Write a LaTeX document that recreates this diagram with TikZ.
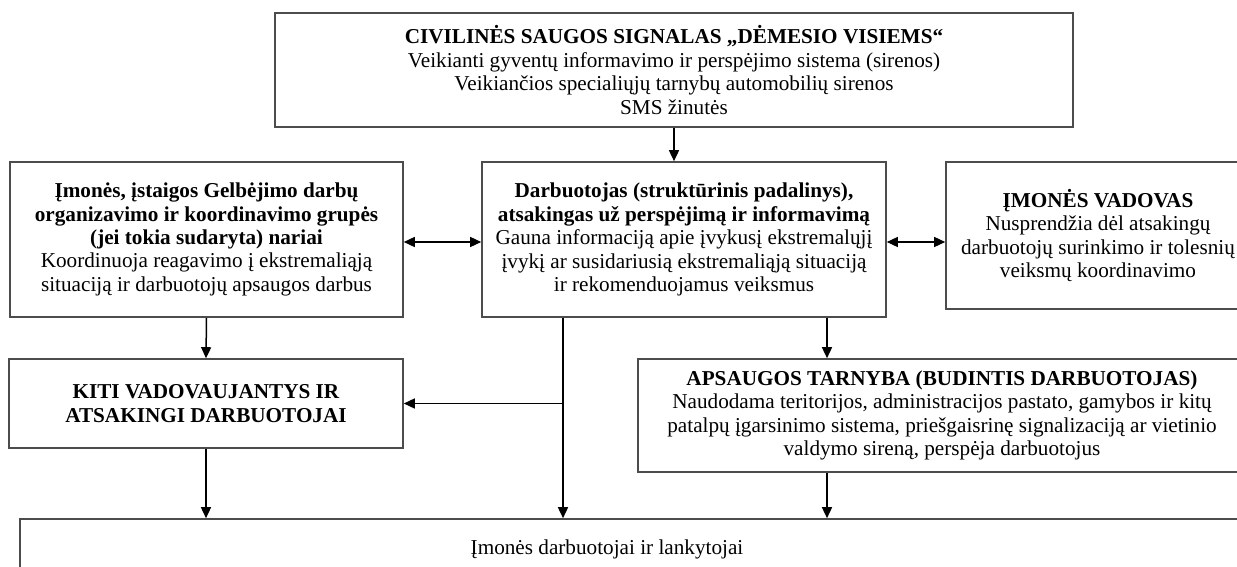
\documentclass[tikz,border=0pt]{standalone}
\usepackage{fontspec}
\setmainfont{Liberation Serif}
\usetikzlibrary{arrows.meta}
\tikzset{
  box/.style={draw=black!70, line width=0.8pt, align=center, inner sep=0pt,
    font=\fontsize{10.6}{11.7}\selectfont},
  arr/.style={-{Triangle[length=5.5pt,width=5pt]}, line width=0.75pt},
  dbl/.style={{Triangle[length=5.5pt,width=5pt]}-{Triangle[length=5.5pt,width=5pt]}, line width=0.75pt},
}
\begin{document}
\begin{tikzpicture}[x=0.5pt, y=-0.5pt]
\useasboundingbox (0,0) rectangle (1237,567);
% signal on top
\node[box, minimum width=399pt, minimum height=57pt] (sig) at (674,70)
  {\textbf{CIVILINĖS SAUGOS SIGNALAS „DĖMESIO VISIEMS“}\\
   Veikianti gyventų informavimo ir perspėjimo sistema (sirenos)\\
   Veikiančios specialiųjų tarnybų automobilių sirenos\\
   SMS žinutės};
% middle row
\node[box, minimum width=196.5pt, minimum height=77.5pt] (grp) at (206.5,239.5)
  {\textbf{Įmonės, įstaigos Gelbėjimo darbų}\\
   \textbf{organizavimo ir koordinavimo grupės}\\
   \textbf{(jei tokia sudaryta) nariai}\hspace*{29pt}\\
   Koordinuoja reagavimo į ekstremaliąją\\
   situaciją ir darbuotojų apsaugos darbus};
\node[box, minimum width=202pt, minimum height=77.5pt] (dar) at (684,239.5)
  {\textbf{Darbuotojas (struktūrinis padalinys),}\\
   \textbf{atsakingas už perspėjimą ir informavimą}\\
   Gauna informaciją apie įvykusį ekstremalųjį\\
   įvykį ar susidariusią ekstremaliąją situaciją\\
   ir rekomenduojamus veiksmus};
\node[box, minimum width=152pt, minimum height=73.5pt] (vad) at (1098,235.5)
  {\textbf{ĮMONĖS VADOVAS}\\
   Nusprendžia dėl atsakingų\\
   darbuotojų surinkimo ir tolesnių\\
   veiksmų koordinavimo};
% lower row
\node[box, minimum width=197pt, minimum height=44.5pt] (kiti) at (206,403.5)
  {\raisebox{-2pt}{\textbf{KITI VADOVAUJANTYS IR}}\\
   \raisebox{-2pt}{\textbf{ATSAKINGI DARBUOTOJAI}}};
\node[box, minimum width=304pt, minimum height=56.5pt] (aps) at (942,415.5)
  {\textbf{APSAUGOS TARNYBA (BUDINTIS DARBUOTOJAS)}\\
   Naudodama teritorijos, administracijos pastato, gamybos ir kitų\\
   patalpų įgarsinimo sistema, priešgaisrinę signalizaciją ar vietinio\\
   valdymo sireną, perspėja darbuotojus};
\node[box, minimum width=620pt, minimum height=30.5pt] (emp) at (640,549.5)
  {\hspace*{-33pt}Įmonės darbuotojai ir lankytojai};
% connectors
\coordinate (split) at ([xshift=-60.5pt]dar.south |- kiti.east);
\coordinate (drop) at ([xshift=71.5pt]dar.south);
\draw[arr] (sig.south) -- (sig.south |- dar.north);
\draw[dbl] ([yshift=-1.25pt]grp.east) -- ([yshift=-1.25pt]dar.west);
\draw[dbl] ([yshift=-1.25pt]dar.east) -- ([yshift=-1.25pt]dar.east -| vad.west);
\draw[arr] (grp.south) -- (kiti.north);
\draw[arr] (split |- dar.south) -- (split |- emp.north);
\draw[arr] (split) -- (kiti.east);
\draw[arr] (drop) -- (drop |- aps.north);
\draw[arr] (drop |- aps.south) -- (drop |- emp.north);
\draw[arr] (kiti.south) -- (kiti.south |- emp.north);
\end{tikzpicture}
\end{document}
